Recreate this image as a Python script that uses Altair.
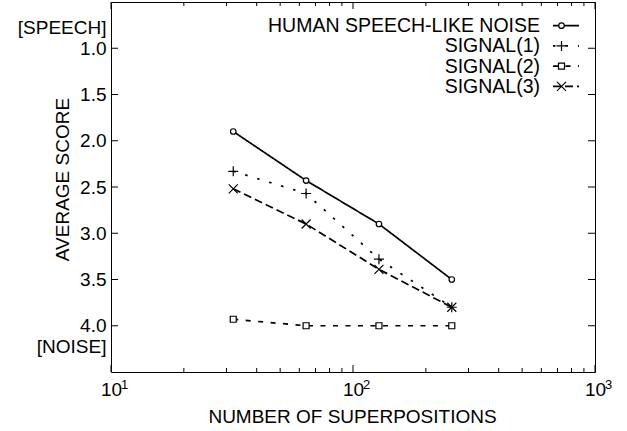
import altair as alt
import pandas as pd

# ---- data ----
superpositions = [32, 64, 128, 256]
series_names = ["HUMAN SPEECH-LIKE NOISE", "SIGNAL(1)", "SIGNAL(2)", "SIGNAL(3)"]
human = [1.90, 2.43, 2.90, 3.50]
signal1 = [2.33, 2.57, 3.28, 3.80]
signal2 = [3.93, 4.00, 4.00, 4.00]
signal3 = [2.52, 2.90, 3.39, 3.80]

y_ticks = [1.0, 1.5, 2.0, 2.5, 3.0, 3.5, 4.0]
y_end_labels = ["[SPEECH]", "[NOISE]"]
y_end_positions = [0.78, 4.22]
x_major = [10, 100, 1000]
x_minor = [20, 30, 40, 50, 60, 70, 80, 90, 200, 300, 400, 500, 600, 700, 800, 900]
x_tick_base = "10"
x_tick_exponents = ["1", "2", "3"]

rows = []
for name, vals in zip(series_names, [human, signal1, signal2, signal3]):
    for n, v in zip(superpositions, vals):
        rows.append({"n": n, "score": v, "series": name})
df = pd.DataFrame(rows)
legend_df = pd.DataFrame({"series": series_names})
xmaj_df = pd.DataFrame({"n": x_major, "exp": x_tick_exponents})
xmin_df = pd.DataFrame({"n": x_minor})
yt_df = pd.DataFrame({"v": y_ticks})

W, H = 484, 370
FONT = "Liberation Sans"
FS = 19

x_scale = alt.Scale(type="log", domain=[10, 1000], nice=False)
y_scale = alt.Scale(domain=[0.5, 4.5], reverse=True, nice=False, zero=False)
dash_scale = alt.Scale(domain=series_names, range=[[1, 0], [2.5, 10], [5, 7.5], [8, 4]])
circle_path = "M-0.55,0A0.55,0.55 0 1,0 0.55,0A0.55,0.55 0 1,0 -0.55,0Z"
plus_path = "M-1,0L1,0M0,-1L0,1"
square_path = "M-0.6,-0.6L0.6,-0.6L0.6,0.6L-0.6,0.6Z"
x_path = "M-0.9,-0.9L0.9,0.9M-0.9,0.9L0.9,-0.9"
shape_scale = alt.Scale(domain=series_names, range=[circle_path, plus_path, square_path, x_path])

y_label_expr = ("datum.value == %s ? '%s' : datum.value == %s ? '%s' : format(datum.value, '.1f')"
                % (y_end_positions[0], y_end_labels[0], y_end_positions[1], y_end_labels[1]))

x_axis = alt.Axis(orient="bottom", values=x_major, labelExpr="'%s'" % x_tick_base, ticks=False,
                  domain=False, grid=False, labelPadding=8, labelFlush=False, labelOverlap=False,
                  title="NUMBER OF SUPERPOSITIONS", titleX=241, titleY=50,
                  titleAlign="center", titleBaseline="alphabetic")
y_axis = alt.Axis(values=[y_end_positions[0]] + y_ticks + [y_end_positions[1]],
                  labelExpr=y_label_expr, ticks=False, domain=False, grid=False,
                  labelPadding=5, labelFlush=False, labelOverlap=False, labelBaseline="middle",
                  title="AVERAGE SCORE", titleX=-43, titleY=177, titleAngle=-90,
                  titleAlign="center", titleBaseline="alphabetic")

base = alt.Chart(df)
lines = base.mark_line(color="black", strokeWidth=1.7).encode(
    x=alt.X("n:Q", scale=x_scale, axis=x_axis),
    y=alt.Y("score:Q", scale=y_scale, axis=y_axis),
    strokeDash=alt.StrokeDash("series:N", scale=dash_scale, legend=None),
    detail="series:N",
)
points = base.mark_point(fill="white", fillOpacity=1, stroke="black", strokeWidth=1.2, opacity=1,
                         size=100).encode(
    x=alt.X("n:Q", scale=x_scale, axis=x_axis),
    y=alt.Y("score:Q", scale=y_scale, axis=None),
    shape=alt.Shape("series:N", scale=shape_scale, legend=None),
)

# inward ticks on all four sides
def xticks(data, y0, y1):
    return alt.Chart(data).mark_rule(color="black", strokeWidth=1).encode(
        x=alt.X("n:Q", scale=x_scale, axis=x_axis), y=alt.value(y0), y2=alt.value(y1))

def yticks(x0, x1):
    return alt.Chart(yt_df).mark_rule(color="black", strokeWidth=1).encode(
        y=alt.Y("v:Q", scale=y_scale, axis=None), x=alt.value(x0), x2=alt.value(x1))

tick_layers = [
    xticks(xmaj_df, H, H - 7), xticks(xmin_df, H, H - 4),
    xticks(xmaj_df, 0, 7), xticks(xmin_df, 0, 4),
    yticks(0, 7), yticks(W, W - 7),
]

# exponent (superscript) part of the x tick labels
x_exp = alt.Chart(xmaj_df).mark_text(align="left", baseline="alphabetic", dx=10, fontSize=13,
                                     font=FONT, color="black").encode(
    x=alt.X("n:Q", scale=x_scale, axis=x_axis), y=alt.value(H + 17), text="exp:N")

# legend (inside, top right)
leg_y = alt.Y("series:N", scale=alt.Scale(type="point", domain=series_names, range=[23.7, 84.3], padding=0),
              axis=None)
leg_text = alt.Chart(legend_df).mark_text(align="right", baseline="alphabetic", dy=6.5,
                                          fontSize=19.5, font=FONT, color="black").encode(
    x=alt.value(429), y=leg_y, text="series:N")
leg_line = alt.Chart(legend_df).mark_rule(color="black", strokeWidth=1.7).encode(
    x=alt.value(442), x2=alt.value(468), y=leg_y,
    strokeDash=alt.StrokeDash("series:N", scale=dash_scale, legend=None))
leg_pts = alt.Chart(legend_df).mark_point(fill="white", fillOpacity=1, stroke="black", strokeWidth=1.2,
                                          opacity=1, size=100).encode(
    x=alt.value(450.5), y=leg_y,
    shape=alt.Shape("series:N", scale=shape_scale, legend=None))

chart = alt.layer(lines, points, *tick_layers, x_exp, leg_line, leg_pts, leg_text).resolve_scale(
    y="independent").properties(
    width=W, height=H,
    autosize=alt.AutoSizeParams(type="none"),
    padding={"left": 111, "top": 2, "right": 32, "bottom": 59},
    background="white",
).configure_view(stroke="black", strokeWidth=1).configure_axis(
    labelFont=FONT, labelFontSize=FS, labelColor="black",
    titleFont=FONT, titleFontSize=FS, titleColor="black", titleFontWeight="normal",
)

chart.save("out.html", embed_options={"renderer": "svg", "actions": False})
